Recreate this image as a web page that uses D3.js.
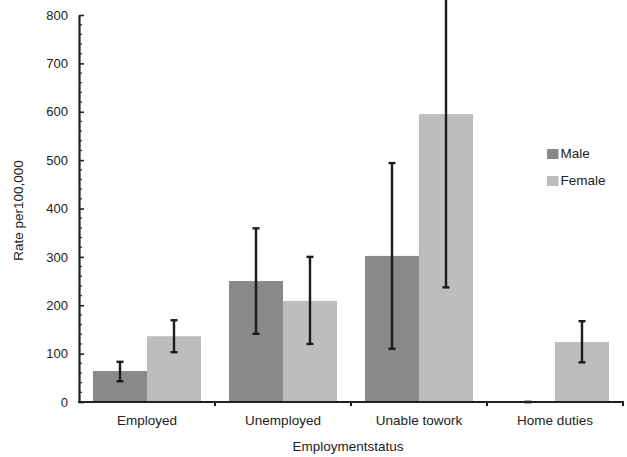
<!DOCTYPE html>
<html>
<head>
<meta charset="utf-8">
<script src="https://cdn.jsdelivr.net/npm/d3@7/dist/d3.min.js"></script>
<style>
  body { margin: 0; background: #fff; }
  svg { display: block; font-family: "Liberation Sans", Arial, sans-serif; }
</style>
</head>
<body>
<svg id="chart" width="627" height="457"></svg>
<script>
// Rate per 100,000 by employment status and sex, with 95% CI
const categories = ["Employed", "Unemployed", "Unable towork", "Home duties"];
const seriesNames = ["Male", "Female"];
const maleValues = [64, 250, 302, 0];
const maleLow = [43, 141, 110, 0];
const maleHigh = [83, 359, 494, 0];
const femaleValues = [136, 209, 595, 124];
const femaleLow = [103, 120, 237, 82];
const femaleHigh = [169, 300, 850, 167];
const yTicks = [0, 100, 200, 300, 400, 500, 600, 700, 800];
const colors = ["#898989", "#bdbdbd"];

const svg = d3.select("#chart");
const plotLeft = 79, plotRight = 623, plotTop = 15, plotBottom = 402;
const fontFam = "Liberation Sans, Arial, sans-serif";

const x = d3.scaleBand().domain(categories).range([plotLeft, plotRight]).paddingInner(0).paddingOuter(0);
const xs = d3.scaleBand().domain(seriesNames).range([14, x.bandwidth() - 14]);
const y = d3.scaleLinear().domain([0, 800]).range([plotBottom, plotTop]);

const rows = categories.map((c, i) => ({
  cat: c,
  vals: [
    { s: "Male", v: maleValues[i], lo: maleLow[i], hi: maleHigh[i] },
    { s: "Female", v: femaleValues[i], lo: femaleLow[i], hi: femaleHigh[i] }
  ]
}));

// bars
const g = svg.append("g");
const groups = g.selectAll("g.cat").data(rows).join("g")
  .attr("class", "cat")
  .attr("transform", d => `translate(${x(d.cat)},0)`);

groups.selectAll("rect").data(d => d.vals).join("rect")
  .attr("x", d => xs(d.s))
  .attr("width", xs.bandwidth())
  .attr("y", d => y(d.v))
  .attr("height", d => y(0) - y(d.v))
  .attr("fill", (d, i) => colors[i]);

// error bars
const eb = groups.selectAll("g.err").data(d => d.vals).join("g").attr("class", "err")
  .attr("stroke", "#1c1c1c").attr("stroke-width", 2.4).attr("fill", "none");
const cx = d => xs(d.s) + xs.bandwidth() / 2;
eb.append("line")
  .attr("x1", cx).attr("x2", cx)
  .attr("y1", d => y(d.lo)).attr("y2", d => y(d.hi));
eb.append("line")
  .attr("x1", d => cx(d) - 3.5).attr("x2", d => cx(d) + 3.5)
  .attr("y1", d => y(d.lo)).attr("y2", d => y(d.lo));
eb.append("line")
  .attr("x1", d => cx(d) - 3.5).attr("x2", d => cx(d) + 3.5)
  .attr("y1", d => y(d.hi)).attr("y2", d => y(d.hi));

// y axis
const yAxis = svg.append("g").attr("transform", `translate(${plotLeft},0)`)
  .call(d3.axisLeft(y).tickValues(yTicks).tickSize(-5).tickSizeOuter(0).tickPadding(11));
yAxis.select(".domain").attr("stroke", "#222").attr("stroke-width", 2.2);
yAxis.selectAll(".tick line").attr("stroke", "#222").attr("stroke-width", 1.6);
yAxis.selectAll(".tick text").attr("font-size", 13).attr("fill", "#222")
  .attr("font-family", fontFam);

// minor ticks every 20
const minor = d3.range(0, 801, 20).filter(v => v % 100 !== 0);
svg.append("g").selectAll("line").data(minor).join("line")
  .attr("x1", plotLeft).attr("x2", plotLeft + 3)
  .attr("y1", d => y(d)).attr("y2", d => y(d))
  .attr("stroke", "#333").attr("stroke-width", 1.3);

// x axis
const xAxis = svg.append("g").attr("transform", `translate(0,${plotBottom})`)
  .call(d3.axisBottom(x).tickSize(0).tickSizeOuter(0).tickPadding(13));
xAxis.select(".domain").remove();
xAxis.selectAll(".tick text").attr("font-size", 13.5).attr("fill", "#222")
  .attr("font-family", fontFam);
svg.append("line").attr("x1", plotLeft - 1).attr("x2", plotRight + 1)
  .attr("y1", plotBottom).attr("y2", plotBottom)
  .attr("stroke", "#222").attr("stroke-width", 2.2);
svg.append("g").selectAll("line").data(categories).join("line")
  .attr("x1", d => x(d) + x.bandwidth()).attr("x2", d => x(d) + x.bandwidth())
  .attr("y1", plotBottom).attr("y2", plotBottom + 4)
  .attr("stroke", "#222").attr("stroke-width", 2);

// axis titles
svg.append("text")
  .attr("transform", `translate(23,${(plotTop + plotBottom) / 2 + 2}) rotate(-90)`)
  .attr("text-anchor", "middle").attr("font-size", 13.5).attr("fill", "#222")
  .text("Rate per100,000");
svg.append("text")
  .attr("x", 348).attr("y", 451)
  .attr("text-anchor", "middle").attr("font-size", 13.5).attr("fill", "#222")
  .text("Employmentstatus");

// legend
const legend = svg.append("g").attr("transform", "translate(547,149)");
const li = legend.selectAll("g").data(seriesNames).join("g")
  .attr("transform", (d, i) => `translate(0,${i * 27})`);
li.append("rect").attr("width", 11.5).attr("height", 10).attr("fill", (d, i) => colors[i]);
li.append("text").attr("x", 13.5).attr("y", 9).attr("font-size", 13.5).attr("fill", "#222").text(d => d);
</script>
</body>
</html>
